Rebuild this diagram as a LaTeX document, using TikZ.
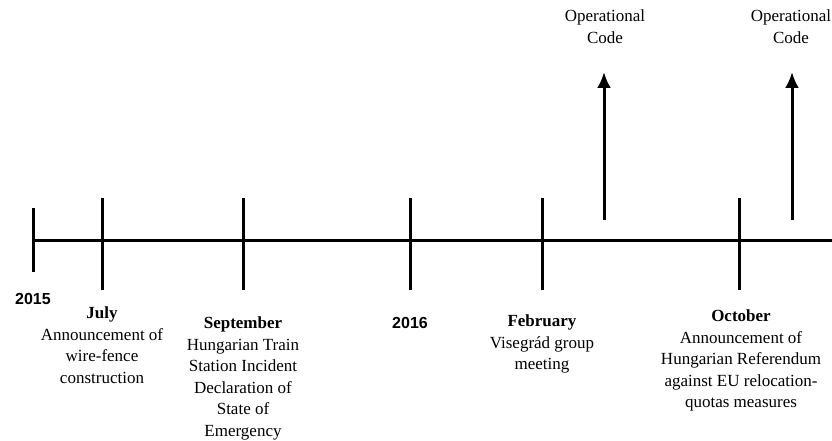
\documentclass[tikz,border=0pt]{standalone}
\usepackage{fontspec}
\setmainfont{Liberation Serif}
\setsansfont{Liberation Sans}
\usetikzlibrary{arrows.meta}
\newcommand{\Event}[2]{\textbf{#1}\\#2}
\newcommand{\Year}[1]{{\fontsize{16}{19}\selectfont\sffamily\bfseries #1}}

\begin{document}
\begin{tikzpicture}[>={Latex[length=16pt,width=14pt]}, x=1pt, y=-1pt,
    every node/.style={inner sep=0pt, anchor=north, align=center,
      font=\rmfamily\fontsize{17}{21.5}\selectfont},
    tickline/.style={line width=3pt}]

    \useasboundingbox (0,0) rectangle (832,441);

    % time axis
    \coordinate (L) at (33,240);
    \coordinate (R) at (832,240);
    \draw[tickline] (L) -- (R);
    \draw[tickline] (33,208) -- (33,272);
    \foreach \x in {102,243,410,542,739}
      \draw[tickline] (\x,198) -- (\x,290);

    % years
    \draw(33,293) node (y15) {\Year{2015}};
    \draw(410,317) node (y16) {\Year{2016}};

    % events
    \draw(102,307) node (jul) {\Event{July}{Announcement of\\wire-fence\\construction}};
    \draw(243,317) node (sep) {\Event{September}{Hungarian Train\\Station Incident\\Declaration of\\State of\\Emergency}};
    \draw(542,315) node (feb) {\Event{February}{Visegr\'ad group\\meeting}};
    \draw(741,310) node (oct) {\Event{October}{Announcement of\\Hungarian Referendum\\against EU relocation-\\quotas measures}};

    % operational code
    \draw(605,10) node (op1) {Operational\\Code};
    \draw(791,10) node (op2) {Operational\\Code};
    \coordinate (a1) at (604,220);
    \coordinate (a2) at (792,220);
    \draw[tickline, ->] (a1) -- (a1 |- 0,72);
    \draw[tickline, ->] (a2) -- (a2 |- 0,72);

\end{tikzpicture}
\end{document}
